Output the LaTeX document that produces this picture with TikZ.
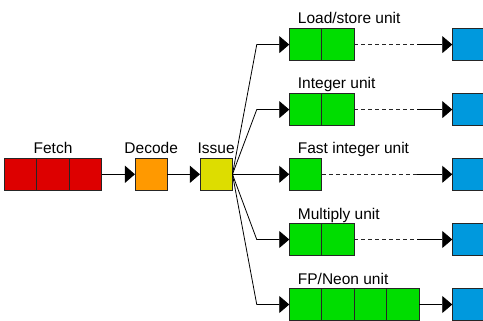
\documentclass[tikz,border=0pt]{standalone}
\usepackage{fontspec}
\setmainfont{Liberation Sans}
\usetikzlibrary{arrows.meta}
\definecolor{cred}{HTML}{DD0000}
\definecolor{corange}{HTML}{FF9900}
\definecolor{cyellow}{HTML}{DDDD00}
\definecolor{cgreen}{HTML}{00DD00}
\definecolor{cblue}{HTML}{0099DD}
\tikzset{
  cell/.style={draw=black!85, line width=0.8pt, minimum width=32.5pt, minimum height=32.5pt, inner sep=0pt, outer sep=0pt},
  lbl/.style={font=\fontsize{15.5}{18}\selectfont, inner sep=0pt},
  conn/.style={draw=black, line width=0.8pt, -{Triangle[length=10pt,width=17pt]}},
  dashconn/.style={draw=black!85, line width=0.8pt, dash pattern=on 4pt off 3pt},
}
\begin{document}
\begin{tikzpicture}[x=1pt,y=-1pt]
\useasboundingbox (0,0) rectangle (483,321);
\clip (0,0) rectangle (483,321);
% Fetch
\node[cell, fill=cred] (f1) at (20.5,174.3) {};
\node[cell, fill=cred] (f2) at (53,174.3) {};
\node[cell, fill=cred] (f3) at (85.5,174.3) {};
\node[lbl, anchor=base] (tfetch) at (53,154) {Fetch};
% Decode
\node[cell, fill=corange] (dec) at (151.2,174.3) {};
\node[lbl, anchor=base] (tdec) at (151.2,154) {Decode};
% Issue
\node[cell, fill=cyellow] (iss) at (216.2,174.3) {};
\node[lbl, anchor=base] (tiss) at (216.2,154) {Issue};
\draw[conn, line width=1.3pt] (f3.east) -- (dec.west);
\draw[conn] (dec.east) -- (iss.west);
% Load/store
\node[cell, fill=cgreen] (ls1) at (305.5,44.6) {};
\node[cell, fill=cgreen] (ls2) at (338,44.6) {};
\node[lbl, anchor=base west] (tls) at (297.7,24) {Load/store unit};
\node[cell, fill=cblue] (lsb) at (468.5,44.6) {};
\coordinate (lsd) at (417,44.6);
% Integer
\node[cell, fill=cgreen] (in1) at (305.5,109.6) {};
\node[cell, fill=cgreen] (in2) at (338,109.6) {};
\node[lbl, anchor=base west] (tin) at (297.7,89) {Integer unit};
\node[cell, fill=cblue] (inb) at (468.5,109.6) {};
\coordinate (ind) at (417,109.6);
% Fast integer
\node[cell, fill=cgreen] (fi1) at (305.5,174.3) {};
\node[lbl, anchor=base west] (tfi) at (297.7,154) {Fast integer unit};
\node[cell, fill=cblue] (fib) at (468.5,174.3) {};
\coordinate (fid) at (417,174.3);
% Multiply
\node[cell, fill=cgreen] (mu1) at (305.5,239.5) {};
\node[cell, fill=cgreen] (mu2) at (338,239.5) {};
\node[lbl, anchor=base west] (tmu) at (297.7,219) {Multiply unit};
\node[cell, fill=cblue] (mub) at (468.5,239.5) {};
\coordinate (mud) at (417,239.5);
% FP/Neon
\node[cell, fill=cgreen] (fp1) at (305.5,304.5) {};
\node[cell, fill=cgreen] (fp2) at (338,304.5) {};
\node[cell, fill=cgreen] (fp3) at (370.5,304.5) {};
\node[cell, fill=cgreen] (fp4) at (403,304.5) {};
\node[lbl, anchor=base west] (tfp) at (297.7,284) {FP/Neon unit};
\node[cell, fill=cblue] (fpb) at (468.5,304.5) {};
% Issue branches
\draw[conn] (iss.east) -- ([xshift=-32.5pt]ls1.west) -- (ls1.west);
\draw[conn] (iss.east) -- ([xshift=-32.5pt]in1.west) -- (in1.west);
\draw[conn] (iss.east) -- (fi1.west);
\draw[conn] (iss.east) -- ([xshift=-32.5pt]mu1.west) -- (mu1.west);
\draw[conn] (iss.east) -- ([xshift=-32.5pt]fp1.west) -- (fp1.west);
% to blue
\draw[dashconn] (ls2.east) -- (lsd);
\draw[conn] (lsd) -- (lsb.west);
\draw[dashconn] (in2.east) -- (ind);
\draw[conn] (ind) -- (inb.west);
\draw[dashconn] (fi1.east) -- (fid);
\draw[conn] (fid) -- (fib.west);
\draw[dashconn] (mu2.east) -- (mud);
\draw[conn] (mud) -- (mub.west);
\draw[conn] (fp4.east) -- (fpb.west);
\end{tikzpicture}
\end{document}
